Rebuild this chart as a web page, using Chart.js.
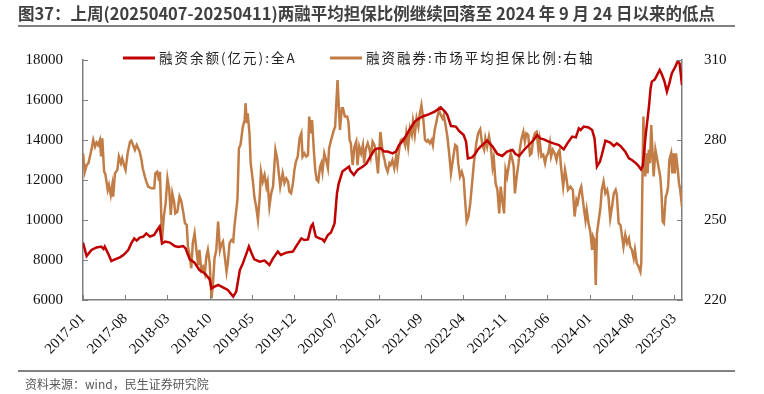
<!DOCTYPE html>
<html>
<head>
<meta charset="utf-8">
<script src="https://cdn.jsdelivr.net/npm/chart.js@4"></script>
<style>
  html, body { margin: 0; padding: 0; background: #fff; }
  #wrap { position: relative; width: 764px; height: 394px; overflow: hidden; }
  #title {
    position: absolute; left: 18px; top: 2px; width: 717px; height: 23px;
    border-bottom: 2px solid #808080;
    font: bold 16.5px "Noto Sans CJK SC", sans-serif; color: #404040;
    white-space: nowrap; line-height: 22px;
  }
  #source {
    position: absolute; left: 18px; top: 370px; width: 717px;
    border-top: 2px solid #808080;
    font: 12px "Noto Sans CJK SC", sans-serif; color: #595959;
    padding: 3px 0 0 7px; box-sizing: border-box;
  }
  canvas { position: absolute; left: 0; top: 0; }
</style>
</head>
<body>
<div id="wrap">
  <canvas id="chart" width="764" height="394"></canvas>
  <div id="title">图37：上周(20250407-20250411)两融平均担保比例继续回落至 2024 年 9 月 24 日以来的低点</div>
  <div id="source">资料来源：wind，民生证券研究院</div>
</div>
<script>
// x values are months counted from 2017-01
const xTickLabels = ['2017-01','2017-08','2018-03','2018-10','2019-05','2019-12','2020-07','2021-02',
  '2021-09','2022-04','2022-11','2023-06','2024-01','2024-08','2025-03'];

const seriesNames = ['融资余额(亿元):全A', '融资融券:市场平均担保比例:右轴'];

const balanceMonths = [0,0.6,1.4,2.25,3.0,3.4,3.6,4.2,4.7,5.3,6.1,6.7,7.5,8.0,8.5,8.9,9.4,10.0,10.5,11.1,11.8,12.3,12.7,13.1,13.6,14.4,15.2,15.8,16.6,17.0,17.7,18.5,19.3,20.2,21.0,21.3,21.8,22.4,23.2,24.0,24.9,25.4,26.0,26.5,27.1,27.5,28.0,28.4,29.3,30.1,30.9,31.5,32.3,32.8,33.7,34.8,35.3,36.2,36.7,37.3,37.8,38.1,38.6,39.2,39.7,40.0,40.6,41.1,41.7,42.1,42.4,43.0,44.1,44.3,44.9,45.5,46.4,47.0,47.7,48.3,48.8,49.4,49.9,50.5,51.3,51.9,52.4,53.2,54.1,55.0,55.7,56.5,57.3,58.3,59.3,60.0,60.4,61.0,61.8,62.3,63.1,63.5,63.8,64.5,65.0,65.4,65.9,66.5,67.0,67.9,68.7,69.5,70.3,71.2,71.7,72.3,73.1,73.9,74.7,75.3,75.8,76.4,77.2,78.0,78.9,79.7,80.3,81.1,81.7,82.2,82.5,83.0,83.8,84.4,84.8,85.2,85.7,86.0,86.6,87.4,88.0,88.5,89.1,89.9,90.5,91.0,91.7,92.1,92.5,92.8,93.3,93.8,94.1,94.3,94.8,95.6,96.0,96.4,96.8,97.2,97.6,98.2,98.6,98.9,99.3];
const balanceValues = [8870,8200,8500,8630,8670,8550,8670,8300,7950,8030,8130,8250,8500,8830,9080,8970,9120,9170,9330,9170,9250,9500,9670,8830,8920,8870,8700,8650,8700,8580,8030,7870,7500,7330,7030,6580,6670,6750,6630,6500,6170,6420,7500,7830,8330,8670,8300,8030,7920,7970,7750,8080,8420,8250,8370,8420,8670,9080,9000,9030,9670,9800,9170,9080,9030,8920,9250,9370,9830,11330,11830,12420,12670,12470,12250,12500,12670,12830,13200,13500,13580,13580,13420,13420,13330,13420,13750,14030,14500,14920,15080,15200,15280,15420,15630,15420,15250,14700,14670,14470,14250,13920,13080,13130,13300,13500,13670,13830,13970,13670,13300,13200,13420,13500,13300,13200,13500,13750,14000,14250,14080,14030,13920,13830,13750,13530,13830,14170,14130,14580,14500,14670,14630,14500,14080,12670,12920,13250,13970,13870,13700,13830,13700,13420,13080,13000,12830,12700,12530,12700,14300,15600,16600,16920,17030,17500,17250,16920,16420,16830,17330,17670,17950,17830,16750];

const ratioMonths = [0,0.3,0.6,0.9,1.15,1.4,1.7,2.0,2.25,2.5,2.8,3.0,3.2,3.5,3.7,4.1,4.3,4.6,4.85,5.0,5.3,5.7,5.95,6.3,6.5,6.8,7.05,7.4,7.8,8.0,8.3,8.6,8.9,9.15,9.4,9.7,9.9,10.25,10.5,10.8,11.35,11.8,12.0,12.3,12.6,12.75,13.1,13.4,13.7,14.0,14.3,14.55,14.8,15.1,15.3,15.65,16.0,16.3,16.6,16.9,17.2,17.4,17.7,17.95,18.2,18.5,18.8,19.1,19.3,19.6,19.9,20.2,20.45,20.7,21.0,21.3,21.55,21.8,22.1,22.4,22.7,22.9,23.2,23.5,23.8,24.0,24.3,24.6,24.9,25.1,25.6,25.85,26.1,26.5,26.8,26.95,27.15,27.3,27.6,27.8,28.2,28.4,28.7,29.0,29.3,29.5,29.8,30.1,30.4,30.6,30.9,31.2,31.5,31.9,32.2,32.7,33.1,33.4,33.7,34.0,34.2,34.5,34.8,35.05,35.3,35.6,35.9,36.2,36.4,36.7,37.0,37.3,37.5,37.8,37.97,38.3,38.5,38.75,39.0,39.3,39.5,39.7,40.0,40.3,40.6,40.8,41.2,41.6,41.8,41.95,42.2,42.4,42.6,42.9,43.1,43.4,43.8,44.0,44.2,44.4,44.7,45.0,45.3,45.5,45.8,46.1,46.4,46.6,46.9,47.2,47.5,47.7,48.0,48.3,48.5,48.9,49.3,49.7,50.0,50.2,50.5,50.8,51.0,51.3,51.6,51.9,52.1,52.4,52.7,53.1,53.4,53.6,53.9,54.2,54.5,54.7,55.0,55.3,55.6,55.8,56.1,56.4,56.7,57.0,57.2,57.5,57.8,58.0,58.3,58.6,59.0,59.3,59.6,59.8,60.1,60.4,60.7,61.0,61.4,61.7,62.0,62.2,62.5,62.8,63.1,63.3,63.6,63.9,64.2,64.5,64.8,65.2,65.5,65.85,66.2,66.5,66.7,67.0,67.3,67.6,67.9,68.1,68.4,68.7,69.0,69.25,69.5,69.8,70.05,70.3,70.6,70.9,71.2,71.4,71.6,71.9,72.2,72.4,72.7,73.0,73.25,73.5,73.8,74.1,74.35,74.6,74.9,75.2,75.5,75.7,76.0,76.3,76.6,76.8,77.1,77.4,77.6,77.9,78.2,78.5,78.7,79.0,79.3,79.6,79.9,80.1,80.4,80.8,81.2,81.5,81.8,82.0,82.4,82.6,82.8,83.0,83.3,83.5,83.8,84.1,84.4,84.55,84.8,85.0,85.2,85.5,85.8,86.0,86.3,86.6,86.9,87.1,87.4,87.7,88.0,88.3,88.5,88.8,89.1,89.3,89.6,89.9,90.2,90.5,90.7,91.0,91.3,91.5,91.8,92.1,92.4,92.55,92.75,92.9,93.2,93.4,93.6,93.8,94.0,94.2,94.4,94.6,94.9,95.2,95.4,95.7,95.9,96.1,96.3,96.6,96.8,97.0,97.2,97.5,97.7,97.9,98.1,98.3,98.6,98.8,99.0,99.3];
const ratioValues = [275.0,268.1,270.6,271.3,273.8,276.3,280.0,277.5,279.0,278.1,280.0,273.8,280.6,268.1,267.3,261.3,263.1,259.4,263.1,258.8,267.5,268.8,273.8,271.3,273.1,270.6,268.8,275.0,279.4,279.8,278.1,276.3,278.1,276.9,275.6,272.5,269.4,266.3,264.4,262.5,261.9,261.9,267.5,268.1,265.0,268.1,242.5,251.3,256.3,265.6,261.3,251.9,260.0,256.9,252.5,253.1,258.8,257.0,253.1,248.8,248.1,240.0,236.3,231.9,241.3,245.0,238.8,233.1,238.8,231.3,232.5,230.0,236.3,238.8,233.8,220.6,226.3,235.6,238.8,249.4,238.8,240.6,241.9,236.3,230.6,233.8,241.3,242.5,241.9,247.5,257.5,276.9,278.1,285.0,287.5,293.8,286.3,290.0,282.5,271.3,263.8,258.8,255.0,250.0,258.8,268.1,264.4,266.9,262.5,264.4,255.0,260.0,262.5,276.3,273.0,262.5,267.5,263.8,265.6,264.4,260.6,260.0,263.8,268.8,271.9,273.8,280.6,282.5,273.8,275.0,273.8,274.4,288.8,282.5,287.5,275.0,268.8,265.0,264.4,270.0,271.3,268.1,275.0,272.5,269.4,276.9,280.6,283.8,285.0,291.9,302.5,292.5,283.8,291.9,291.9,288.8,288.8,286.9,280.0,278.8,270.6,277.5,279.4,270.6,277.5,275.0,278.1,271.3,276.9,278.8,276.3,273.8,279.4,278.1,276.3,267.5,283.0,275.0,272.5,270.0,268.1,271.3,270.6,272.5,269.4,273.8,270.6,276.3,280.0,280.6,278.1,282.5,277.5,284.4,281.9,286.9,281.9,288.1,285.0,289.4,293.1,288.1,280.0,279.4,280.0,278.8,280.0,278.1,283.8,286.9,291.3,289.4,288.1,289.4,285.6,281.3,275.0,267.5,273.8,278.1,277.5,271.3,266.3,268.1,265.6,258.8,249.4,251.3,256.3,263.8,271.3,278.8,282.5,284.0,278.1,276.3,280.6,277.5,281.3,277.5,270.0,273.1,263.8,261.3,252.5,262.5,257.5,252.5,268.8,266.3,270.6,275.0,272.5,270.0,260.0,266.3,271.3,276.3,280.6,283.1,279.4,282.5,281.9,274.4,275.0,280.0,282.5,283.1,276.3,280.0,273.8,274.4,271.3,273.8,275.0,278.8,273.8,276.3,275.0,272.5,275.0,276.3,268.8,262.5,268.8,266.3,261.3,262.5,261.3,251.3,257.5,256.3,261.3,262.5,258.8,255.0,250.0,253.8,248.8,245.6,238.8,243.8,242.5,225.6,245.0,250.0,255.0,261.3,264.4,260.0,261.3,258.8,250.6,255.0,260.0,261.3,259.4,248.8,248.1,245.0,240.0,244.4,241.3,243.1,240.0,238.8,235.6,238.8,233.8,232.5,230.6,233.8,266.3,288.8,266.3,275.0,267.5,276.3,271.3,285.6,276.3,266.3,276.3,272.5,270.0,266.3,260.0,249.4,248.8,258.8,260.0,262.5,272.5,275.0,267.5,275.0,267.5,275.0,268.8,263.8,261.3,255.0];

const balanceColor = '#C00000';
const ratioColor = '#C27D47';
const axisColor = '#7f7f7f';
const tickFont = { family: '"Liberation Serif", "Times New Roman", serif', size: 15 };

// ticks drawn inward, like the source chart
const innerTicks = {
  id: 'innerTicks',
  afterDraw(chart) {
    const ctx = chart.ctx, a = chart.chartArea;
    ctx.save();
    ctx.strokeStyle = axisColor; ctx.lineWidth = 1;
    ctx.beginPath();
    chart.scales.x.ticks.forEach(t => {
      const px = Math.round(chart.scales.x.getPixelForValue(t.value)) + 0.5;
      ctx.moveTo(px, a.bottom); ctx.lineTo(px, a.bottom - 5);
    });
    chart.scales.y.ticks.forEach(t => {
      const py = Math.round(chart.scales.y.getPixelForValue(t.value)) + 0.5;
      ctx.moveTo(a.left, py); ctx.lineTo(a.left + 5, py);
    });
    chart.scales.y1.ticks.forEach(t => {
      const py = Math.round(chart.scales.y1.getPixelForValue(t.value)) + 0.5;
      ctx.moveTo(a.right, py); ctx.lineTo(a.right - 5, py);
    });
    ctx.stroke();
    ctx.restore();
  }
};

// legend sits inside the top of the plot
const topLegend = {
  id: 'topLegend',
  afterDraw(chart) {
    const ctx = chart.ctx;
    const y = 58;
    const starts = [123, 330];
    ctx.save();
    ctx.font = '13.5px "Noto Sans CJK SC", sans-serif';
    ctx.letterSpacing = '2px';
    ctx.textBaseline = 'middle';
    chart.data.datasets.forEach((ds, i) => {
      const x = starts[i];
      ctx.strokeStyle = ds.borderColor; ctx.lineWidth = 3;
      ctx.beginPath(); ctx.moveTo(x, y); ctx.lineTo(x + 32, y); ctx.stroke();
      ctx.fillStyle = '#222';
      ctx.fillText(ds.label, x + 36, y);
    });
    ctx.restore();
  }
};

new Chart(document.getElementById('chart'), {
  type: 'line',
  data: {
    datasets: [
      {
        label: seriesNames[0],
        data: balanceMonths.map((m, i) => ({ x: m, y: balanceValues[i] })),
        borderColor: balanceColor, borderWidth: 2.5, pointRadius: 0, yAxisID: 'y'
      },
      {
        label: seriesNames[1],
        data: ratioMonths.map((m, i) => ({ x: m, y: ratioValues[i] })),
        borderColor: ratioColor, borderWidth: 2.5, pointRadius: 0, yAxisID: 'y1'
      }
    ]
  },
  options: {
    responsive: false, animation: false,
    layout: { padding: { top: 60, left: 0, right: 0, bottom: 0 } },
    plugins: { legend: { display: false }, tooltip: { enabled: false } },
    scales: {
      x: {
        type: 'linear', min: 0, max: 99.3,
        grid: { display: false },
        border: { color: axisColor, width: 1.5 },
        ticks: {
          stepSize: 7, includeBounds: false, autoSkip: false,
          maxRotation: 45, minRotation: 45, padding: 2,
          color: '#111', font: tickFont,
          callback: v => xTickLabels[Math.round(v / 7)]
        },
        afterFit: s => { s.height = 94; }
      },
      y: {
        position: 'left', min: 6000, max: 18000,
        grid: { display: false },
        border: { color: axisColor, width: 1.5 },
        ticks: { stepSize: 2000, color: '#111', font: tickFont, padding: 12, callback: v => String(v) },
        afterFit: s => { s.width = 83; }
      },
      y1: {
        position: 'right', min: 220, max: 310,
        grid: { display: false },
        border: { color: axisColor, width: 1.5 },
        ticks: { stepSize: 30, color: '#111', font: tickFont, padding: 14, callback: v => String(v) },
        afterFit: s => { s.width = 82; }
      }
    }
  },
  plugins: [innerTicks, topLegend]
});
</script>
</body>
</html>
